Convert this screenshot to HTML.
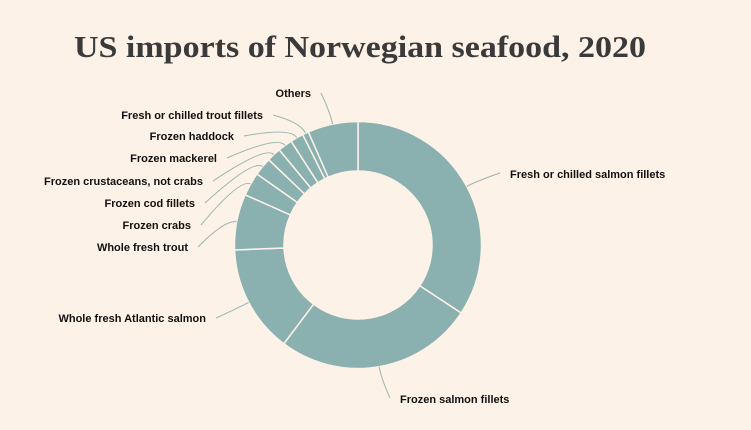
<!DOCTYPE html>
<html><head><meta charset="utf-8"><style>
body{margin:0;background:#fcf2e8;}
svg{display:block}
text{font-family:"Liberation Sans",Arial,sans-serif;font-size:11px;font-weight:bold;fill:#111;}
</style></head><body>
<svg id="s" width="751" height="430" xmlns="http://www.w3.org/2000/svg">
<rect width="751" height="430" fill="#fcf2e8"/>
<text x="74" y="57" textLength="572" lengthAdjust="spacingAndGlyphs" style="font-family:'Liberation Serif',serif;font-size:31px;font-weight:bold;fill:#3a3a3a">US imports of Norwegian seafood, 2020</text>
<g id="g"></g>
</svg>
<script>
var cx=358,cy=245,R=123.5,r=74;
var b=[0,123.4,216.9,267.7,294,305.1,313.7,320.4,327.2,333.4,336.3,360];
function pt(a,rad){a=a*Math.PI/180;return [cx+rad*Math.sin(a),cy-rad*Math.cos(a)];}
var h='';
for(var i=0;i<b.length-1;i++){
 var a0=b[i],a1=b[i+1],l=(a1-a0)>180?1:0;
 var p0=pt(a0,R),p1=pt(a1,R),q1=pt(a1,r),q0=pt(a0,r);
 h+='<path d="M'+p0+' A'+R+','+R+' 0 '+l+' 1 '+p1+' L'+q1+' A'+r+','+r+' 0 '+l+' 0 '+q0+'Z" fill="#8ab0af" stroke="#fcf2e8" stroke-width="1.5"/>';
}
var labels=[
 ["Fresh or chilled salmon fillets",510,178,"start",500,173],
 ["Frozen salmon fillets",400,403,"start",390,398],
 ["Whole fresh Atlantic salmon",206,322,"end",216,318],
 ["Whole fresh trout",188,251,"end",198,247],
 ["Frozen crabs",191,229,"end",201,225],
 ["Frozen cod fillets",195,207,"end",205,203],
 ["Frozen crustaceans, not crabs",203,185,"end",213,181],
 ["Frozen mackerel",217,162,"end",227,158],
 ["Frozen haddock",234,140,"end",244,136],
 ["Fresh or chilled trout fillets",263,119,"end",273,115],
 ["Others",311,97,"end",321,93]
];
for(var i=0;i<labels.length;i++){
 var L=labels[i],m=(b[i]+b[i+1])/2,p=pt(m,R),q=pt(m,R+12);
 h+='<path d="M'+p+' Q'+q+' '+L[4]+','+L[5]+'" fill="none" stroke="#9ab5ad" stroke-width="1"/>';
 h+='<text x="'+L[1]+'" y="'+L[2]+'" text-anchor="'+L[3]+'">'+L[0]+'</text>';
}
document.getElementById('g').innerHTML=h;
</script>
</body></html>
